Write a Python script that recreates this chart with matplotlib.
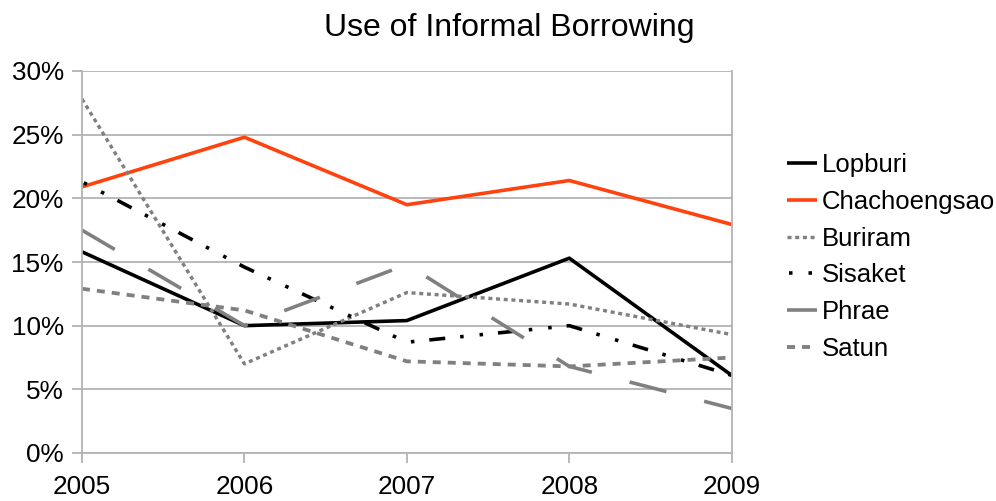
import matplotlib
matplotlib.use("Agg")
import matplotlib.pyplot as plt
from matplotlib.ticker import FuncFormatter

plt.rcParams['font.family'] = ['Liberation Sans', 'DejaVu Sans']
plt.rcParams['lines.scale_dashes'] = False

years = [2005, 2006, 2007, 2008, 2009]

lopburi = [15.8, 10.0, 10.4, 15.3, 6.1]
chachoengsao = [20.9, 24.8, 19.5, 21.4, 17.95]
buriram = [27.8, 7.0, 12.6, 11.7, 9.3]
sisaket = [21.3, 14.6, 8.7, 10.0, 6.1]
phrae = [17.5, 10.0, 14.8, 6.8, 3.5]
satun = [12.9, 11.2, 7.2, 6.8, 7.5]

series_names = ["Lopburi", "Chachoengsao", "Buriram", "Sisaket", "Phrae", "Satun"]
y_ticks = [0, 5, 10, 15, 20, 25, 30]

px = 0.72  # points per pixel at 100 dpi

styles = {
    "Lopburi": dict(color="black", lw=3.6 * px, ls="-"),
    "Chachoengsao": dict(color="#ff420e", lw=3.6 * px, ls="-"),
    "Buriram": dict(color="#808080", lw=3.4 * px, ls=(0, (4 * px, 3.7 * px))),
    "Sisaket": dict(color="black", lw=3.6 * px,
                    ls=(29 * px, (16 * px, 15 * px, 3.5 * px, 16 * px, 3.5 * px, 15 * px))),
    "Phrae": dict(color="#808080", lw=3.6 * px, ls=(0, (38 * px, 39 * px))),
    "Satun": dict(color="#808080", lw=3.8 * px, ls=(0, (8 * px, 7 * px))),
}

data = dict(zip(series_names, [lopburi, chachoengsao, buriram, sisaket, phrae, satun]))

fig = plt.figure(figsize=(9.96, 5.01), dpi=100)
ax = fig.add_axes([82 / 996, 1 - 453 / 501, (731.7 - 82) / 996, (453 - 71) / 501])

for name in series_names:
    st = styles[name]
    ax.plot(years, data[name], color=st["color"], lw=st["lw"], linestyle=st["ls"],
            dash_capstyle="butt", solid_capstyle="butt", label=name)

ax.set_xlim(2005, 2009)
ax.set_ylim(0, 30)
ax.set_xticks(years)
ax.set_yticks(y_ticks)
ax.yaxis.set_major_formatter(FuncFormatter(lambda v, p: f"{v:.0f}%"))

grid_c = "#b3b3b3"
ax.grid(axis="y", color=grid_c, lw=1.3)
ax.set_axisbelow(True)
for side in ["left", "right", "bottom"]:
    ax.spines[side].set_color(grid_c)
    ax.spines[side].set_linewidth(1.3)
ax.spines["top"].set_visible(False)
ax.tick_params(axis="both", colors=grid_c, length=10 * px, width=1.3, direction="out",
               labelcolor="black", labelsize=18.8)
ax.tick_params(axis="x", pad=9)
ax.tick_params(axis="y", pad=6)

fig.suptitle("Use of Informal Borrowing", x=509 / 996, y=1 - 28 / 501, va="center",
             fontsize=23)

leg = fig.legend(loc="center left", bbox_to_anchor=(787 / 996, 1 - 257 / 501),
                 frameon=False, fontsize=18.5, handlelength=1.15, handletextpad=0.2,
                 labelspacing=0.5, borderpad=0, borderaxespad=0)

fig.savefig("out.png", dpi=100)
